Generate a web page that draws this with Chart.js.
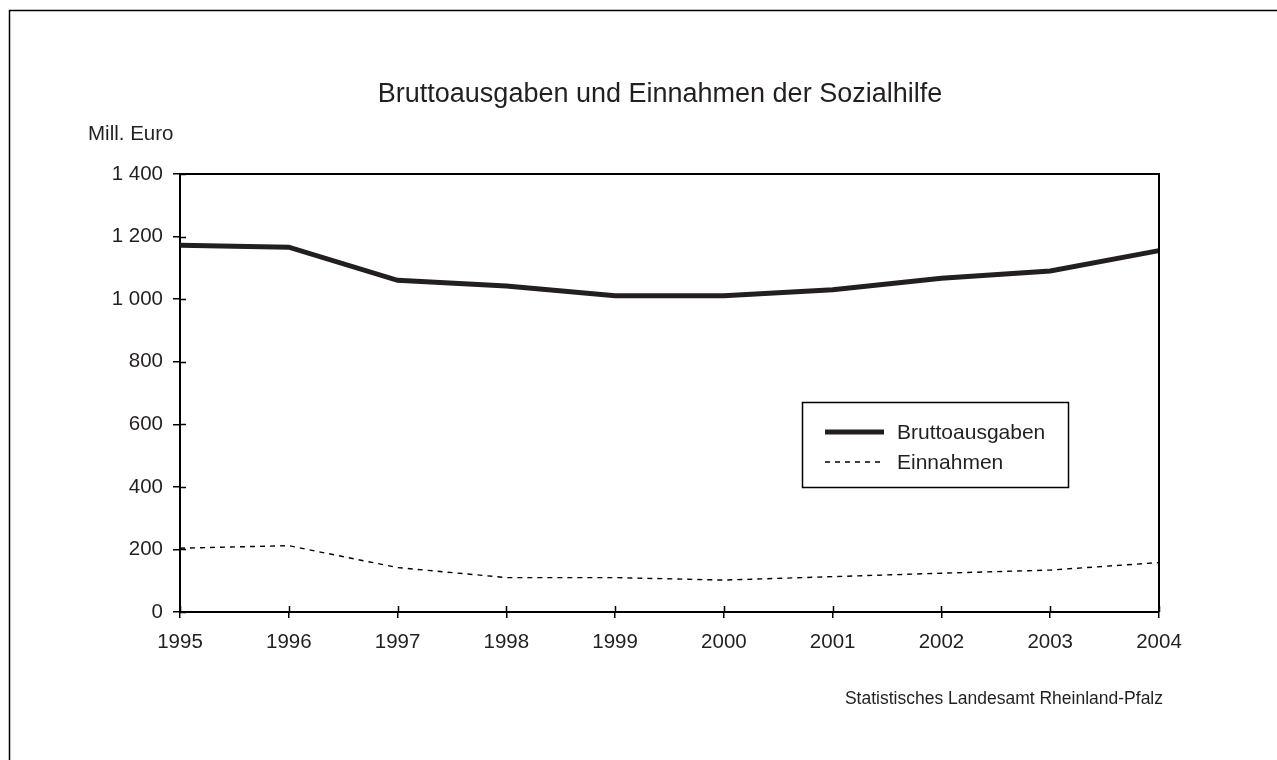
<!DOCTYPE html>
<html>
<head>
<meta charset="utf-8">
<script src="https://cdn.jsdelivr.net/npm/chart.js@4/dist/chart.umd.min.js"></script>
<style>
html,body{margin:0;padding:0;background:#fff;}
#wrap{width:1277px;height:760px;position:relative;}
</style>
</head>
<body>
<div id="wrap"><canvas id="c" width="1277" height="760"></canvas></div>
<script>
const titleText = "Bruttoausgaben und Einnahmen der Sozialhilfe";
const unitText = "Mill. Euro";
const sourceText = "Statistisches Landesamt Rheinland-Pfalz";
const years = ["1995","1996","1997","1998","1999","2000","2001","2002","2003","2004"];
const bruttoausgaben = [1172, 1166, 1060, 1042, 1011, 1011, 1030, 1067, 1090, 1155];
const einnahmen = [204, 212, 142, 110, 110, 102, 113, 124, 134, 158];
const yTicks = [0, 200, 400, 600, 800, 1000, 1200, 1400];

const FONT = "'Liberation Sans', Arial, sans-serif";
const INK = "#231f20";

function fmt(v){
  return String(v).replace(/\B(?=(\d{3})+(?!\d))/g, " ");
}

const decor = {
  id: 'decor',
  afterDraw(chart){
    const ctx = chart.ctx;
    const a = chart.chartArea;
    ctx.save();
    // outer frame (top and left)
    ctx.strokeStyle = "#000";
    ctx.lineWidth = 1.5;
    ctx.beginPath();
    ctx.moveTo(9.5, 760);
    ctx.lineTo(9.5, 10.5);
    ctx.lineTo(1277, 10.5);
    ctx.stroke();
    // plot box top/right
    ctx.lineWidth = 2;
    ctx.beginPath();
    ctx.moveTo(a.left, a.top);
    ctx.lineTo(a.right, a.top);
    ctx.lineTo(a.right, a.bottom);
    ctx.stroke();
    // inner tick halves
    const ys = chart.scales.y, xs = chart.scales.x;
    ctx.lineWidth = 1.5;
    ctx.beginPath();
    yTicks.forEach(v => {
      const p = Math.round(ys.getPixelForValue(v)) + 0.5;
      ctx.moveTo(a.left, p); ctx.lineTo(a.left + 6, p);
    });
    years.forEach((y, i) => {
      const p = Math.round(xs.getPixelForValue(i)) + 0.5;
      ctx.moveTo(p, a.bottom); ctx.lineTo(p, a.bottom - 6);
    });
    ctx.stroke();
    // texts
    ctx.fillStyle = INK;
    ctx.textBaseline = "middle";
    ctx.font = "27px " + FONT;
    ctx.textAlign = "center";
    ctx.fillText(titleText, 660, 95);
    ctx.font = "20.5px " + FONT;
    ctx.textAlign = "left";
    ctx.fillText(unitText, 88, 134);
    ctx.font = "17.5px " + FONT;
    ctx.textAlign = "right";
    ctx.fillText(sourceText, 1163, 699);
    // legend
    const lx = 802, ly = 402, lw = 266, lh = 85;
    ctx.fillStyle = "#fff";
    ctx.fillRect(lx, ly, lw, lh);
    ctx.strokeStyle = "#000";
    ctx.lineWidth = 1.5;
    ctx.strokeRect(lx + 0.5, ly + 0.5, lw, lh);
    const rows = [432, 462];
    chart.data.datasets.forEach((ds, i) => {
      ctx.strokeStyle = ds.borderColor;
      ctx.lineWidth = ds.borderWidth;
      ctx.setLineDash(ds.borderDash || []);
      ctx.beginPath();
      ctx.moveTo(825, rows[i]);
      ctx.lineTo(884, rows[i]);
      ctx.stroke();
      ctx.setLineDash([]);
      ctx.fillStyle = INK;
      ctx.font = "21px " + FONT;
      ctx.textAlign = "left";
      ctx.fillText(ds.label, 897, rows[i] + 1);
    });
    ctx.restore();
  }
};

new Chart(document.getElementById('c'), {
  type: 'line',
  data: {
    labels: years,
    datasets: [
      { label: "Bruttoausgaben", data: bruttoausgaben, borderColor: INK, borderWidth: 5,
        pointRadius: 0, tension: 0, fill: false, borderCapStyle: 'butt', borderJoinStyle: 'miter' },
      { label: "Einnahmen", data: einnahmen, borderColor: "#000", borderWidth: 1.4, borderDash: [5, 5],
        pointRadius: 0, tension: 0, fill: false }
    ]
  },
  options: {
    responsive: false,
    animation: false,
    events: [],
    layout: { padding: { top: 174, right: 118, bottom: 0, left: 0 } },
    plugins: { legend: { display: false }, title: { display: false }, tooltip: { enabled: false } },
    scales: {
      x: {
        type: 'category',
        offset: false,
        afterFit(s){ s.height = 148; },
        grid: { display: true, drawOnChartArea: false, drawTicks: true, tickLength: 6, color: "#000", lineWidth: 1.5 },
        border: { display: true, color: "#000", width: 2 },
        ticks: { color: INK, font: { family: FONT, size: 20.5 }, padding: 12, maxRotation: 0, autoSkip: false }
      },
      y: {
        min: 0, max: 1400,
        afterFit(s){ s.width = 180; },
        afterBuildTicks(s){ s.ticks = yTicks.map(v => ({ value: v })); },
        grid: { display: true, drawOnChartArea: false, drawTicks: true, tickLength: 7, color: "#000", lineWidth: 1.5 },
        border: { display: true, color: "#000", width: 2 },
        ticks: { color: INK, font: { family: FONT, size: 20.5 }, padding: 10, callback: v => fmt(v) }
      }
    }
  },
  plugins: [decor]
});
</script>
</body>
</html>
